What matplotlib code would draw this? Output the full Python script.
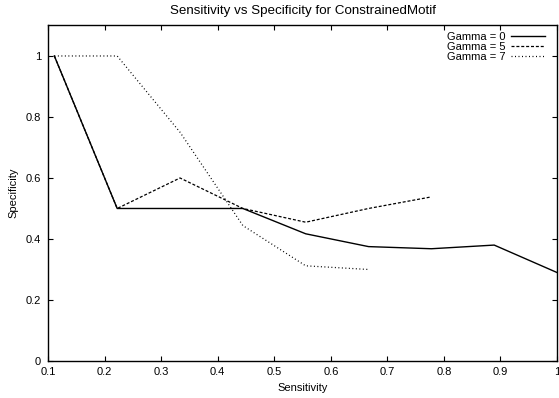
import matplotlib
matplotlib.use('Agg')
import matplotlib.pyplot as plt

# sensitivity steps (k/9)
sens = [1/9, 2/9, 3/9, 4/9, 5/9, 6/9, 7/9, 8/9, 1.0]

spec_g0 = [1.0, 0.5, 0.5, 0.5, 0.417, 0.375, 0.368, 0.38, 0.29]
spec_g5 = [1.0, 0.5, 0.6, 0.5, 0.455, 0.5, 0.538]
spec_g7 = [1.0, 1.0, 0.75, 0.444, 0.312, 0.3]

labels = ['Gamma = 0', 'Gamma = 5', 'Gamma = 7']

plt.rcParams['font.family'] = ['Liberation Sans', 'DejaVu Sans']
plt.rcParams['font.size'] = 8

fig = plt.figure(figsize=(5.59, 3.98), dpi=100)
ax = fig.add_axes([0.086, 0.093, 0.9105, 0.843])

ax.plot(sens[:len(spec_g0)], spec_g0, color='black', linestyle='solid',
        linewidth=1.0, label=labels[0])
ax.plot(sens[:len(spec_g5)], spec_g5, color='black', linestyle=(0, (2.4, 1.5)),
        linewidth=0.9, label=labels[1])
ax.plot(sens[:len(spec_g7)], spec_g7, color='black', linestyle=(0, (0.8, 2.0)),
        linewidth=0.9, label=labels[2])

ax.set_xlim(0.1, 1.0)
ax.set_ylim(0, 1.1)
ax.set_xticks([0.1, 0.2, 0.3, 0.4, 0.5, 0.6, 0.7, 0.8, 0.9, 1.0])
ax.set_xticklabels(['0.1', '0.2', '0.3', '0.4', '0.5', '0.6', '0.7', '0.8', '0.9', '1'])
ax.set_yticks([0, 0.2, 0.4, 0.6, 0.8, 1.0])
ax.set_yticklabels(['0', '0.2', '0.4', '0.6', '0.8', '1'])
ax.tick_params(direction='in', top=True, right=True, length=3.5, width=0.8)
ax.tick_params(axis='x', pad=4.5)
ax.tick_params(axis='y', pad=5)
for s in ax.spines.values():
    s.set_linewidth(1.0)

ax.set_xlabel('Sensitivity', labelpad=4)
ax.set_ylabel('Specificity', labelpad=5)
ax.set_title('Sensitivity vs Specificity for ConstrainedMotif', pad=8)

ax.legend(loc='upper right', bbox_to_anchor=(1.0, 1.017), frameon=False,
          markerfirst=False, handlelength=3.0, handletextpad=0.55,
          labelspacing=0.0, borderaxespad=0.7)

fig.savefig('out.png', dpi=100)
